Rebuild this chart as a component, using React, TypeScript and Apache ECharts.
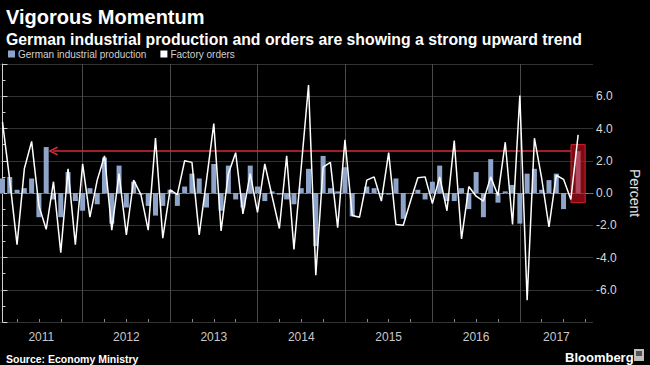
import React, { useEffect, useRef } from 'react';
import * as echarts from 'echarts';

// Monthly data, Jan 2011 .. Aug 2017 (month-on-month % change)
const YEARS = ['2011', '2012', '2013', '2014', '2015', '2016', '2017'];

const PRODUCTION = [
  0.9, 1.0, 0.2, 0.3, 0.9, -1.5, 2.85, -0.4, -1.5, 1.3, -0.5, -1.1,
  0.3, -0.7, 2.2, -1.9, 1.7, -0.9, 0.7, -0.1, -0.8, -1.4, -0.8, 0.2,
  -0.8, 0.4, 1.2, 0.9, -0.9, 1.8, -1.1, 1.7, -0.4, -0.9, 1.7, 0.4,
  -0.5, 0.1, -0.1, -0.4, -0.7, 0.3, 1.5, -3.3, 2.3, 0.3, 0.1, 1.6,
  -1.45, 0.0, 0.4, 0.3, -0.1, -0.1, 0.9, -1.6, 0.0, 0.2, -0.4, 0.7,
  1.7, -0.5, -0.5, 0.3, -1.0, 1.3, -1.5, 2.1, -0.6, 0.1, 0.5, -1.9,
  1.2, 1.5, 0.2, 0.8, 1.2, -1.0, 0.0, 2.6,
];

const ORDERS = [
  4.4, 0.8, -3.2, 1.5, 3.2, -0.8, -2.25, 0.7, -3.7, 1.5, -3.2, 1.8,
  -1.5, 0.8, 2.3, -2.3, 1.2, -2.6, 0.8, -0.1, -2.3, 3.4, -2.8, 0.2,
  -0.1, 2.0, 1.9, -2.6, 0.8, 4.3, -2.35, 1.2, 2.5, -1.3, 1.2, -1.2,
  1.8, -0.2, -2.2, 2.3, -3.5, 1.6, 6.7, -5.1, 1.6, 1.9, -2.15, 3.3,
  -1.4, -1.5, 0.8, 1.0, -0.5, 2.5, -1.95, -2.0, -0.5, 0.95, 1.0, -0.65,
  1.0, -1.1, 3.25, -2.85, 0.4, -0.2, -0.5, 1.0, -0.15, 3.15, -1.95, 6.05,
  -6.65, 3.4, 0.9, -2.1, 1.1, 0.85, -0.4, 3.6,
];

const ARROW_TARGET_INDEX = 6; // previous peak the arrow points back to
const BOX_TOP = 3.0;
const BOX_BOTTOM = -0.6;

const X_MIN = -0.34;
const X_MAX = 81.04;

const BAR_COLOR = '#8ea4c9';
const FONT = '"Liberation Sans", Arial, sans-serif';

export default function App() {
  const ref = useRef<HTMLDivElement>(null);

  useEffect(() => {
    if (!ref.current) return;
    const chart = echarts.init(ref.current, undefined, { renderer: 'svg' });

    const lastIndex = PRODUCTION.length - 1;
    const latest = PRODUCTION[lastIndex];
    // year boundaries: data are plotted at month end; December points sit on the year line
    const yearBoundaries = YEARS.slice(1).map((_, k) => 11 + 12 * k);
    const quarterTicks: number[] = [];
    for (let v = 2; v <= X_MAX; v += 3) {
      if ((v - 11) % 12 !== 0) quarterTicks.push(v);
    }
    // label positions: centre of the visible part of each year
    const labelPos = YEARS.map((_, k) => {
      const lo = Math.max(X_MIN, -1 + 12 * k);
      const hi = Math.min(X_MAX, 11 + 12 * k);
      return (lo + hi) / 2;
    });

    const chevron = 'path://M0,9 L5,0 L10,9 L8.6,10 L5,3.4 L1.4,10 Z';

    chart.setOption({
      animation: false,
      backgroundColor: '#000000',
      title: [
        {
          text: 'Vigorous Momentum',
          left: 1,
          top: 2,
          textStyle: { color: '#ffffff', fontSize: 20, fontWeight: 'bold', fontFamily: FONT },
        },
        {
          text: 'German industrial production and orders are showing a strong upward trend',
          left: 1,
          top: 26,
          textStyle: { color: '#ffffff', fontSize: 15.8, fontWeight: 'bold', fontFamily: FONT },
        },
        {
          text: 'Source: Economy Ministry',
          left: 1,
          top: 348,
          textStyle: { color: '#ffffff', fontSize: 10.5, fontWeight: 'bold', fontFamily: FONT },
        },
        {
          text: 'Bloomberg',
          left: 560,
          top: 346,
          textStyle: { color: '#ffffff', fontSize: 13, fontWeight: 'bold', fontFamily: FONT },
        },
      ],
      graphic: [
        { type: 'rect', shape: { x: 634, y: 349, width: 10, height: 12 }, style: { fill: '#bdbdbd' } },
        { type: 'rect', shape: { x: 636, y: 351, width: 6, height: 5 }, style: { fill: '#555' } },
      ],
      legend: {
        left: 3,
        top: 44,
        icon: 'rect',
        itemWidth: 7,
        itemHeight: 7,
        itemGap: 14,
        textStyle: { color: '#d0d0d0', fontSize: 10, fontFamily: FONT, padding: [0, 0, 0, -2] },
        data: ['German industrial production', 'Factory orders'],
      },
      grid: { left: 0, right: 47, top: 64, bottom: 43, containLabel: false },
      xAxis: [
        {
          type: 'value',
          min: X_MIN,
          max: X_MAX,
          position: 'bottom',
          axisLine: { show: true, lineStyle: { color: '#8a8a8a', width: 1 } },
          axisTick: {
            show: true,
            customValues: yearBoundaries,
            length: 24,
            lineStyle: { color: '#505050', width: 1 },
          },
          axisLabel: {
            show: true,
            customValues: labelPos,
            formatter: (v: number) => YEARS[Math.round((v - 5) / 12)] ?? '',
            color: '#c8c8c8',
            fontSize: 12,
            fontFamily: FONT,
            margin: 9,
          },
          splitLine: { show: false },
        },
        {
          type: 'value',
          min: X_MIN,
          max: X_MAX,
          position: 'bottom',
          axisLine: { show: false },
          axisTick: {
            show: true,
            inside: true,
            customValues: quarterTicks,
            length: 3,
            lineStyle: { color: '#8a8a8a', width: 1 },
          },
          axisLabel: { show: false },
          splitLine: { show: false },
        },
      ],
      yAxis: {
        type: 'value',
        position: 'right',
        min: -8,
        max: 8,
        interval: 2,
        name: 'Percent',
        nameLocation: 'middle',
        nameRotate: -90,
        nameGap: 35,
        nameTextStyle: { color: '#e0e0e0', fontSize: 14, fontFamily: FONT },
        axisLine: { show: true, lineStyle: { color: '#cfcfcf', width: 1 } },
        axisTick: { show: true, length: 5, lineStyle: { color: '#cfcfcf' } },
        minorTick: { show: true, splitNumber: 2, length: 3, lineStyle: { color: '#cfcfcf' } },
        axisLabel: {
          color: '#d8d8d8',
          fontSize: 12,
          fontFamily: FONT,
          margin: 3,
          formatter: (v: number) => (Math.abs(v) === 8 ? '' : v.toFixed(1)),
        },
        splitLine: { show: true, lineStyle: { color: '#333333', width: 1 } },
      },
      series: [
        {
          name: 'German industrial production',
          type: 'bar',
          xAxisIndex: 0,
          barWidth: 5,
          z: 2,
          itemStyle: { color: BAR_COLOR },
          data: PRODUCTION.map((v, i) => [i, v]),
          markLine: {
            silent: true,
            z: 1,
            symbol: ['none', 'none'],
            label: { show: false },
            data: [
              ...yearBoundaries.map((v) => ({
                xAxis: v,
                lineStyle: { color: '#4a4a4a', width: 1, type: 'solid' },
              })),
              { yAxis: 0, lineStyle: { color: '#6a6a6a', width: 1, type: [4, 3] } },
            ],
          },
        },
        {
          name: 'Factory orders',
          type: 'line',
          xAxisIndex: 0,
          z: 3,
          showSymbol: false,
          symbol: 'none',
          itemStyle: { color: '#ffffff' },
          lineStyle: { color: '#ffffff', width: 1.5 },
          data: ORDERS.map((v, i) => [i, v]),
          markArea: {
            silent: true,
            z: 2.5,
            itemStyle: { color: 'rgba(200, 16, 30, 0.62)', borderColor: '#d0202c', borderWidth: 1 },
            data: [[{ coord: [lastIndex - 0.98, BOX_TOP] }, { coord: [lastIndex + 0.97, BOX_BOTTOM] }]],
          },
          markLine: {
            silent: true,
            z: 2.6,
            label: { show: false },
            symbolSize: [9, 10],
            lineStyle: { color: '#d42a3a', width: 1.5, type: 'solid' },
            data: [
              [
                { coord: [ARROW_TARGET_INDEX + 0.95, latest], symbol: chevron, symbolSize: [9, 10] },
                { coord: [lastIndex - 0.98, latest], symbol: 'none' },
              ],
            ],
          },
        },
      ],
    });

    return () => chart.dispose();
  }, []);

  return <div ref={ref} style={{ width: 650, height: 365, position: 'absolute', left: 0, top: 0 }} />;
}
